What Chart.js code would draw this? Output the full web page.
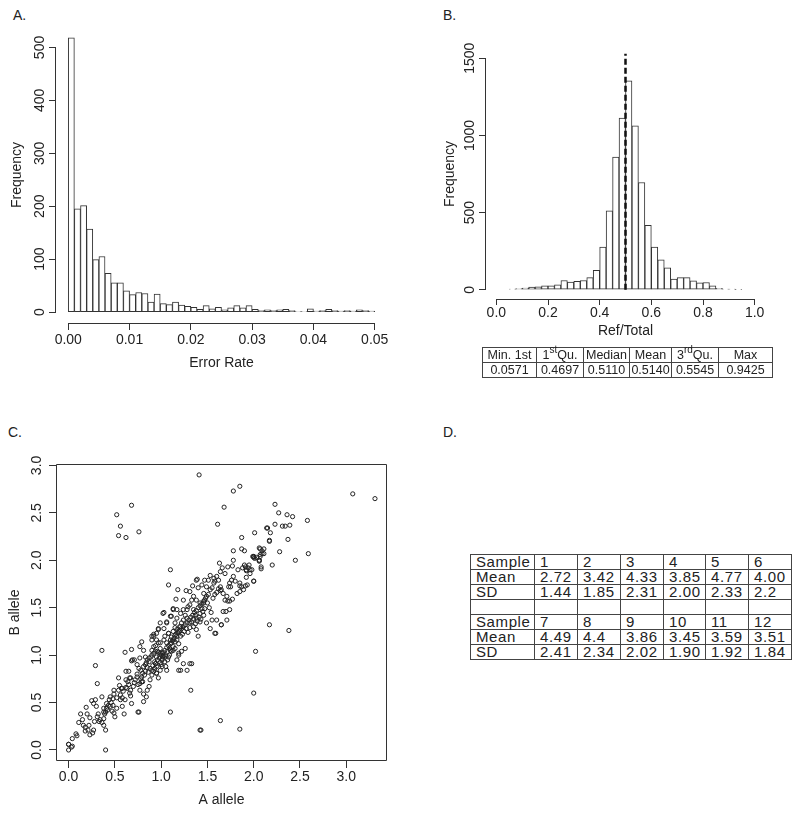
<!DOCTYPE html>
<html>
<head>
<meta charset="utf-8">
<script src="https://cdn.jsdelivr.net/npm/chart.js"></script>
<style>
  body { margin:0; background:#fff; width:800px; height:814px; position:relative; overflow:hidden;
         font-family:"Liberation Sans", Arial, sans-serif; color:#222; }
  canvas { position:absolute; }
  .tag { position:absolute; font-size:14px; line-height:14px; }
  table { position:absolute; border-collapse:collapse; table-layout:fixed; }
  td { border:1px solid #444; padding:0; white-space:nowrap; overflow:visible; }
  #statsB td { font-size:12.5px; text-align:center; height:14px; line-height:14px; }
  #tblD td { font-size:15px; letter-spacing:0.6px; text-align:left; padding-left:5px; height:14px; line-height:14px; }
  sup { font-size:10px; line-height:0; vertical-align:6px; }
</style>
</head>
<body>
<div class="tag" style="left:13px;top:8px">A.</div>
<div class="tag" style="left:443px;top:8px">B.</div>
<div class="tag" style="left:8px;top:425px">C.</div>
<div class="tag" style="left:443px;top:425px">D.</div>

<canvas id="chartA" width="400" height="380" style="left:0;top:0"></canvas>
<canvas id="chartB" width="400" height="345" style="left:400px;top:0"></canvas>
<canvas id="chartC" width="400" height="414" style="left:0;top:400px"></canvas>

<table id="statsB" style="left:482px;top:347px;width:290px">
  <colgroup><col style="width:54px"><col style="width:47px"><col style="width:46px"><col style="width:42px"><col style="width:47px"><col style="width:54px"></colgroup>
  <tr id="statsHead"></tr>
  <tr id="statsVals"></tr>
</table>

<table id="tblD" style="left:470px;top:554px;width:321px">
  <colgroup><col style="width:64px"><col style="width:43px"><col style="width:43px"><col style="width:43px"><col style="width:42px"><col style="width:43px"><col style="width:43px"></colgroup>
  <tbody id="tblDBody"></tbody>
</table>

<script>
// Panel A: error rate histogram (bins of 0.001)
const errStart = 0;
const errWidth = 0.001;
const errCounts = [518, 195, 201, 157, 99, 105, 73, 55, 55, 40,
                   33, 37, 35, 19, 34, 16, 14, 19, 13, 11,
                   9, 5, 12, 6, 9, 4, 8, 12, 8, 12,
                   5, 3, 4, 3, 4, 5, 3, 1, 1, 6,
                   2, 3, 5, 3, 2, 3, 2, 4, 3, 2];
const errTicks = [0, 0.01, 0.02, 0.03, 0.04, 0.05];
const freqTicksA = [0, 100, 200, 300, 400, 500];

// Panel B: Ref/Total histogram (bins of 0.025)
const ratioStart = 0;
const ratioWidth = 0.025;
const ratioCounts = [0, 0, 4, 8, 10, 17, 19, 26, 26, 32,
                     60, 50, 54, 60, 78, 125, 276, 512, 859, 1112,
                     1353, 1062, 695, 417, 276, 194, 142, 69, 78, 78,
                     58, 45, 47, 26, 9, 4, 4, 2, 0, 0];
const ratioTicks = [0, 0.2, 0.4, 0.6, 0.8, 1.0];
const freqTicksB = [0, 500, 1000, 1500];
const medianLineX = [0.5, 0.5];
const medianLineY = [0, 1530];
const summaryHead = ['Min. 1st', '1<sup>st</sup>Qu.', 'Median', 'Mean', '3<sup>rd</sup>Qu.', 'Max'];
const summaryVals = ['0.0571', '0.4697', '0.5110', '0.5140', '0.5545', '0.9425'];

// Panel C: A allele vs B allele
const alleleTicks = [0, 0.5, 1.0, 1.5, 2.0, 2.5, 3.0];
const allelePairs = [
  [1.41,2.90],[0.52,2.48],[0.68,2.58],[0.56,2.36],[0.54,2.26],[0.62,2.24],[0.76,2.30],[1.10,1.90],[0.36,1.05],[0.29,0.89],
  [0.31,0.70],[0.40,0.00],[0.75,0.40],[1.10,0.40],[1.32,0.63],[0.00,0.00],[0.00,0.06],[0.03,0.03],[1.42,0.21],
  [1.85,2.78],[1.78,2.73],[1.68,2.56],[3.07,2.70],[3.31,2.65],[2.23,2.59],[2.27,2.50],[2.36,2.48],[2.42,2.46],[2.58,2.42],
  [1.61,2.38],[2.23,2.38],[2.15,2.34],[2.18,2.29],[2.31,2.36],[2.34,2.36],[2.39,2.37],[2.01,2.29],[1.87,2.24],[2.37,2.22],[2.17,2.20],
  [2.06,2.13],[2.11,2.12],[2.09,2.07],[2.07,2.04],[2.06,2.00],[2.08,1.91],[2.28,2.09],[1.78,2.10],[1.87,2.12],[1.90,2.10],
  [1.99,2.04],[2.00,2.03],[2.59,2.07],[2.45,2.00],[2.20,1.95],[1.63,1.97],[1.78,2.00],[1.77,1.94],[1.90,1.95],[1.92,1.89],
  [2.00,1.78],[2.17,1.32],[2.38,1.26],[2.02,1.04],[2.00,0.60],[1.64,0.31],[1.43,0.21],[1.85,0.22],[1.31,0.91],[1.65,1.32],
  [1.59,1.23],[1.39,1.80],[1.34,1.73],[1.91,1.73],[1.93,1.74],[1.85,1.73],[1.77,1.59],[1.72,1.57],[1.74,1.57],[1.70,1.46],
  [1.75,1.72],[1.08,1.74],[1.18,1.69],[1.27,1.68],[1.38,1.79],[1.03,1.45],[1.16,1.59],[0.97,1.28],
  [2.14,2.34],[2.07,2.12],[2.09,2.10],[2.11,2.07],[2.07,2.06],[2.00,2.04],[2.03,2.03],[2.06,2.00],[2.08,1.93],[2.17,2.21],
  [1.83,1.90],[1.88,1.92],[1.92,1.90],[1.95,1.95],[1.96,1.90],[2.01,2.02],[2.06,1.99],[2.00,2.04],
  [0.00,0.06],[0.04,0.04],[0.04,0.12],[0.08,0.17],[0.09,0.15],[0.11,0.29],[0.13,0.38],[0.15,0.32],[0.16,0.26],[0.18,0.24],
  [0.19,0.45],[0.20,0.38],[0.23,0.34],[0.21,0.21],[0.23,0.16],[0.26,0.18],[0.27,0.21],[0.25,0.52],[0.27,0.49],[0.29,0.53],
  [0.30,0.46],[0.31,0.35],[0.33,0.30],[0.34,0.32],[0.36,0.29],[0.38,0.26],[0.38,0.33],[0.39,0.38],[0.40,0.21],[0.41,0.49],
  [0.41,0.44],[0.43,0.47],[0.44,0.53],[0.45,0.56],[0.47,0.41],[0.49,0.39],[0.50,0.35],[0.48,0.47],[0.49,0.59],[0.52,0.55],
  [0.54,0.63],[0.55,0.68],[0.57,0.65],[0.58,0.46],[0.60,0.38],[0.61,0.53],[0.59,0.62],[0.63,0.65],[0.65,0.69],[0.67,0.63],
  [0.67,0.57],[0.68,0.49],[0.70,0.67],[0.71,0.71],[0.67,0.76],[0.74,0.77],[0.75,0.69],[0.77,0.63],[0.77,0.70],[0.79,0.72],
  [0.79,0.77],[0.78,0.84],[0.80,0.81],[0.81,0.88],[0.83,0.90],[0.83,0.83],[0.85,0.87],[0.84,0.56],[0.81,0.59],[0.76,0.40],
  [0.81,0.51],[0.85,0.63],[0.87,0.67],[0.88,0.74],[0.90,0.79],[0.92,0.83],[0.93,0.86],[0.95,0.88],[0.95,0.81],[0.97,0.76],
  [0.99,0.84],[1.00,0.90],[1.01,0.95],[1.02,0.99],[0.99,1.02],[0.96,1.04],[0.92,1.02],[0.90,1.20],[0.92,1.22],[0.95,1.16],
  [0.97,1.27],[0.99,1.13],[1.02,0.98],[1.05,0.88],[1.06,0.84],[1.07,0.95],[1.09,1.00],[1.10,1.05],[1.11,1.13],[1.13,1.16],
  [1.15,1.21],[1.17,1.27],[1.15,1.34],[1.17,1.48],[1.13,1.48],[1.11,1.41],[1.13,1.05],[1.15,1.07],[1.17,0.95],[1.19,1.02],
  [1.19,0.84],[1.20,1.30],[1.02,1.44],[1.06,1.34],[1.08,1.23],[0.94,0.91],[0.89,0.98],[0.87,0.93],[0.85,0.95],[0.83,0.98],
  [0.81,1.05],[0.79,1.14],[0.71,0.95],[0.69,0.95],[0.68,0.94],[0.65,0.83],[0.62,0.83],[0.61,1.03],[0.68,1.06],[0.66,0.76],
  [0.77,0.97],[0.74,0.90],[0.62,0.74],[0.58,0.65],[0.54,0.76],[0.56,0.53],[0.52,0.44],[0.49,0.63],[0.45,0.46],[0.42,0.42],
  [0.38,0.40],[0.36,0.56],[0.77,1.09],
  [0.90,1.16],[0.92,1.09],[0.94,1.04],[0.95,0.98],[0.97,1.13],[0.99,1.07],[1.01,1.02],[1.03,1.16],[1.04,1.20],[1.06,1.13],
  [1.08,1.23],[1.10,1.16],[0.95,1.23],[0.92,1.20],[0.90,1.00],[0.94,0.91],[0.90,0.84],[0.95,0.81],[1.01,0.88],[1.04,0.93],
  [1.08,0.98],[1.11,1.04],[1.13,1.09],[1.15,1.14],[1.17,1.20],[1.19,1.25],[1.21,1.30],[1.22,1.34],[1.24,1.37],[1.26,1.42],
  [1.28,1.48],[1.29,1.51],[1.31,1.53],[1.33,1.58],[1.35,1.48],[1.37,1.42],[1.38,1.39],[1.42,1.44],[1.44,1.49],[1.46,1.55],
  [1.47,1.58],[1.49,1.62],[1.51,1.64],[1.53,1.69],[1.55,1.71],[1.57,1.76],[1.58,1.78],[1.60,1.83],[1.62,1.79],[1.64,1.72],
  [1.65,1.69],[1.67,1.65],[1.69,1.58],[1.71,1.62],[1.73,1.72],[1.74,1.76],[1.76,1.79],[1.78,1.83],[1.80,1.78],[1.82,1.65],
  [1.85,1.67],[1.89,1.69],[1.87,1.72],[1.85,1.76],[1.92,1.82],[1.96,1.86],[2.00,1.78],[1.94,1.92],[1.98,1.90],[1.91,1.93],
  [1.17,1.39],[1.21,1.44],[1.24,1.48],[1.28,1.39],[1.31,1.34],[1.35,1.30],[1.38,1.27],[1.42,1.35],[1.46,1.42],[1.40,1.20],
  [1.49,1.34],[1.53,1.28],[1.55,1.37],[1.24,1.58],[1.31,1.67],[1.35,1.62],[1.38,1.58],[1.42,1.55],[1.46,1.65],[1.49,1.72],
  [1.51,1.79],[1.53,1.84],[1.57,1.81],[1.26,1.07],[1.22,1.04],[1.19,1.00],[1.24,0.91],[1.28,0.84],[1.21,0.84],[1.10,1.41],
  [1.13,1.49],[1.06,1.35],[1.03,1.28],[0.99,1.34],[1.33,0.91],[1.58,1.23],[1.65,1.32],[1.60,1.37],[1.67,1.46],[1.74,1.48],
  [1.71,1.37],[1.40,1.71],[1.44,1.74],[1.47,1.79],[1.64,1.88],[1.66,1.92],[1.69,1.86],[1.72,1.93],
  [0.82,0.79],[0.86,0.82],[0.88,0.86],[0.91,0.89],[0.93,0.93],[0.96,0.95],[0.98,0.97],[1.00,1.00],[1.02,1.03],[1.04,1.05],
  [1.06,1.08],[1.08,1.10],[1.10,1.12],[1.12,1.15],[1.14,1.18],[1.16,1.22],[1.18,1.24],[1.20,1.26],[1.22,1.28],[1.24,1.30],
  [1.26,1.32],[1.28,1.34],[1.30,1.37],[1.32,1.40],[1.34,1.42],[1.36,1.45],[1.38,1.47],[1.40,1.50],[1.42,1.52],[1.44,1.54],
  [1.46,1.57],[1.48,1.60],[1.50,1.55],[1.52,1.50],[1.54,1.45],[1.56,1.60],[1.58,1.64],[1.60,1.66],[1.62,1.70],[1.64,1.68],
  [0.84,0.92],[0.87,0.97],[0.90,1.05],[0.94,1.10],[0.97,1.03],[0.99,0.92],[1.01,0.96],[1.03,1.00],[1.05,0.99],[1.07,1.04],
  [1.09,1.07],[1.11,1.19],[1.13,1.25],[1.15,1.29],[1.17,1.16],[1.19,1.12],[1.21,1.20],[1.23,1.22],[1.25,1.25],[1.27,1.28],
  [1.29,1.24],[1.31,1.29],[1.33,1.35],[1.35,1.38],[1.37,1.33],[1.39,1.36],[1.41,1.40],[1.43,1.38],[1.45,1.46],[1.47,1.49],
  [0.72,0.74],[0.74,0.80],[0.76,0.86],[0.78,0.75],[0.80,0.72],[0.62,0.66],[0.64,0.72],[0.66,0.60],[0.56,0.58],[0.58,0.55],
  [0.46,0.50],[0.48,0.54],[0.38,0.44],[0.40,0.40],[0.32,0.38],[0.28,0.30],[0.22,0.26],[0.18,0.20]
];

// Panel D: per-sample summary
const sampleIds = [['1', '2', '3', '4', '5', '6'], ['7', '8', '9', '10', '11', '12']];
const sampleMean = [['2.72', '3.42', '4.33', '3.85', '4.77', '4.00'], ['4.49', '4.4', '3.86', '3.45', '3.59', '3.51']];
const sampleSD = [['1.44', '1.85', '2.31', '2.00', '2.33', '2.2'], ['2.41', '2.34', '2.02', '1.90', '1.92', '1.84']];

const fontFamily = '"Liberation Sans", Arial, sans-serif';
const tickFont = { family: fontFamily, size: 14 };
const titleFont = { family: fontFamily, size: 14 };
const ink = '#222';
const lineCol = '#333';

// R-style axes: axis line only between first and last tick, y labels turned up
const rAxes = {
  id: 'rAxes',
  afterDraw(chart, args, opts) {
    const ctx = chart.ctx;
    const x = chart.scales.x, y = chart.scales.y;
    ctx.save();
    ctx.strokeStyle = lineCol;
    ctx.lineWidth = 1;
    ctx.beginPath();
    if (opts.box) {
      const a = chart.chartArea;
      ctx.rect(a.left + 0.5, a.top + 0.5, a.width - 1, a.height - 1);
    } else {
      const xt = x.ticks, yt = y.ticks;
      ctx.moveTo(x.getPixelForValue(xt[0].value), x.top + 0.5);
      ctx.lineTo(x.getPixelForValue(xt[xt.length - 1].value), x.top + 0.5);
      ctx.moveTo(y.right - 0.5, y.getPixelForValue(yt[0].value));
      ctx.lineTo(y.right - 0.5, y.getPixelForValue(yt[yt.length - 1].value));
    }
    ctx.stroke();

    ctx.fillStyle = ink;
    ctx.font = '14px ' + fontFamily;
    ctx.textAlign = 'center';
    ctx.textBaseline = 'middle';
    y.ticks.forEach(t => {
      ctx.save();
      ctx.translate(y.right - opts.labelGap, y.getPixelForValue(t.value));
      ctx.rotate(-Math.PI / 2);
      ctx.fillText(t.value.toFixed(opts.decimals), 0, 0);
      ctx.restore();
    });
    ctx.restore();
  }
};

function axisX(min, max, ticks, decimals, height, title, titlePad, tickLen, tickPad) {
  return {
    type: 'linear', min: min, max: max, offset: false,
    afterBuildTicks: s => { s.ticks = ticks.map(v => ({ value: v })); },
    afterFit: s => { s.height = height; },
    grid: { offset: false, drawOnChartArea: false, drawTicks: true, tickLength: tickLen, tickColor: lineCol },
    border: { display: false },
    ticks: { color: ink, font: tickFont, padding: tickPad, maxRotation: 0, autoSkip: false,
             callback: v => v.toFixed(decimals) },
    title: { display: true, text: title, color: ink, font: titleFont, padding: { bottom: titlePad } }
  };
}

function axisY(min, max, ticks, width, title, titlePad) {
  return {
    type: 'linear', min: min, max: max,
    afterBuildTicks: s => { s.ticks = ticks.map(v => ({ value: v })); },
    afterFit: s => { s.width = width; },
    grid: { drawOnChartArea: false, drawTicks: true, tickLength: 7, tickColor: lineCol },
    border: { display: false },
    ticks: { display: false },
    title: { display: true, text: title, color: ink, font: titleFont, padding: { top: titlePad } }
  };
}

const base = { responsive: false, animation: false, devicePixelRatio: 1 };

// A
new Chart(document.getElementById('chartA'), {
  type: 'bar',
  data: {
    datasets: [{
      data: errCounts.map((c, i) => ({ x: errStart + (i + 0.5) * errWidth, y: c })),
      backgroundColor: '#fff', borderColor: lineCol, borderWidth: 1, borderSkipped: false,
      barPercentage: 1, categoryPercentage: 1
    }]
  },
  options: Object.assign({}, base, {
    layout: { padding: { top: 27, right: 13, left: 0, bottom: 0 } },
    plugins: { legend: { display: false }, tooltip: { enabled: false }, rAxes: { labelGap: 16, decimals: 0 } },
    scales: {
      x: axisX(-0.002, 0.052, errTicks, 2, 57, 'Error Rate', 8.6, 7, 2),
      y: axisY(-20.7, 538.7, freqTicksA, 56, 'Frequency', 8.6)
    }
  }),
  plugins: [rAxes]
});

// B
new Chart(document.getElementById('chartB'), {
  type: 'bar',
  data: {
    datasets: [{
      type: 'line',
      data: medianLineX.map((v, i) => ({ x: v, y: medianLineY[i] })),
      borderColor: '#111', borderWidth: 2.5, borderDash: [6, 3], pointRadius: 0, order: 0
    }, {
      data: ratioCounts.map((c, i) => ({ x: ratioStart + (i + 0.5) * ratioWidth, y: c })),
      backgroundColor: '#fff', borderColor: lineCol, borderWidth: 1, borderSkipped: false,
      barPercentage: 1, categoryPercentage: 1, order: 1
    }]
  },
  options: Object.assign({}, base, {
    layout: { padding: { top: 49, right: 35, left: 0, bottom: 0 } },
    plugins: { legend: { display: false }, tooltip: { enabled: false }, rAxes: { labelGap: 16, decimals: 0 } },
    scales: {
      x: axisX(-0.04, 1.04, ratioTicks, 1, 46, 'Ref/Total', 5.6, 6, 0),
      y: axisY(-60, 1560, freqTicksB, 86, 'Frequency', 41.6)
    }
  }),
  plugins: [rAxes]
});

// C
new Chart(document.getElementById('chartC'), {
  type: 'scatter',
  data: {
    datasets: [{
      data: allelePairs.map(p => ({ x: p[0], y: p[1] })),
      pointRadius: 2.1, pointBorderWidth: 1, pointBorderColor: '#222',
      pointBackgroundColor: 'rgba(0,0,0,0)'
    }]
  },
  options: Object.assign({}, base, {
    layout: { padding: { top: 64, right: 13, left: 0, bottom: 0 } },
    plugins: { legend: { display: false }, tooltip: { enabled: false }, rAxes: { labelGap: 19, decimals: 1, box: true } },
    scales: {
      x: axisX(-0.136, 3.44, alleleTicks, 1, 53, 'A allele', 5.6, 7, 1),
      y: axisY(-0.116, 3.015, alleleTicks, 56, 'B allele', 6.6)
    }
  }),
  plugins: [rAxes]
});

// tables
document.getElementById('statsHead').innerHTML = summaryHead.map(h => '<td>' + h + '</td>').join('');
document.getElementById('statsVals').innerHTML = summaryVals.map(v => '<td>' + v + '</td>').join('');

const rowsD = [];
sampleIds.forEach((ids, k) => {
  if (k > 0) rowsD.push('<tr>' + '<td>&nbsp;</td>'.repeat(7) + '</tr>');
  rowsD.push('<tr><td>Sample</td>' + ids.map(v => '<td>' + v + '</td>').join('') + '</tr>');
  rowsD.push('<tr><td>Mean</td>' + sampleMean[k].map(v => '<td>' + v + '</td>').join('') + '</tr>');
  rowsD.push('<tr><td>SD</td>' + sampleSD[k].map(v => '<td>' + v + '</td>').join('') + '</tr>');
});
document.getElementById('tblDBody').innerHTML = rowsD.join('');
</script>
</body>
</html>
